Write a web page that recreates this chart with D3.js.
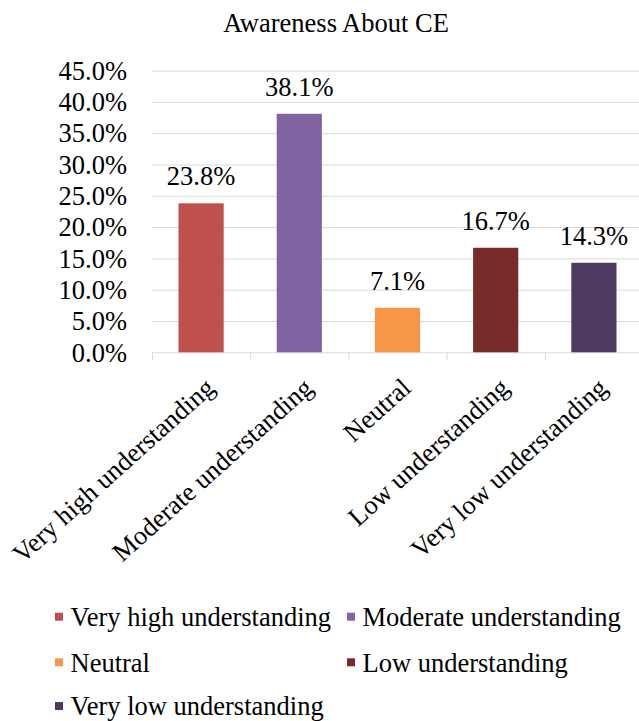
<!DOCTYPE html>
<html>
<head>
<meta charset="utf-8">
<script src="https://cdn.jsdelivr.net/npm/d3@7"></script>
<style>
	body { margin: 0; background: #fff; }
	svg { display: block; }
	svg text { font-family: 'Liberation Serif', 'Times New Roman', serif; fill: #000; }
	.grid line { stroke: #d9d9d9; stroke-width: 1px; }
	.grid path { display: none; }
	.x-axis path, .x-axis line { stroke: #d9d9d9; stroke-width: 1px; }
</style>
</head>
<body>
<div id="chart"></div>
<script>
let categories	= ['Very high understanding', 'Moderate understanding', 'Neutral', 'Low understanding', 'Very low understanding'];
let values		= [0.238, 0.381, 0.071, 0.167, 0.143];
let colors		= ['#C0504D', '#8064A2', '#F79646', '#772C2A', '#4D3B62'];
let yTicks		= [0, 0.05, 0.10, 0.15, 0.20, 0.25, 0.30, 0.35, 0.40, 0.45];
let title		= 'Awareness About CE';

let canvasWidth		= 639;
let canvasHeight	= 721;
let fontSize		= 26.5;

let plot	= { left: 152, right: 643, top: 70.6, bottom: 352.3 };

let svg = d3.select('#chart').append('svg')
	.attr('width', canvasWidth)
	.attr('height', canvasHeight);

let y = d3.scaleLinear()
	.domain([0, 0.45])
	.range([plot.bottom, plot.top]);

let x = d3.scaleBand()
	.domain(categories)
	.range([plot.left, plot.right])
	.paddingInner(0.54)
	.paddingOuter(0.27);

// category edges, for the tick marks between bars
let xEdge = d3.scaleLinear()
	.domain([0, categories.length])
	.range([plot.left, plot.right]);

svg.append('text')
	.attr('x', 336)
	.attr('y', 32)
	.attr('text-anchor', 'middle')
	.style('font-size', fontSize + 'px')
	.text(title);

// gridlines
svg.append('g')
	.attr('class', 'grid')
	.attr('transform', 'translate(' + plot.left + ',0)')
	.call(d3.axisLeft(y).tickValues(yTicks.slice(1)).tickSize(-(plot.right - plot.left)).tickFormat(''));

// y labels
let yAxis = svg.append('g')
	.attr('transform', 'translate(' + plot.left + ',0)')
	.call(d3.axisLeft(y).tickValues(yTicks).tickSize(0).tickPadding(25).tickFormat(d3.format('.1%')));
yAxis.select('.domain').remove();
yAxis.selectAll('text')
	.attr('dy', '0.33em')
	.style('font-size', fontSize + 'px');

// x axis line + ticks at edges
svg.append('g')
	.attr('class', 'x-axis')
	.attr('transform', 'translate(0,' + plot.bottom + ')')
	.call(d3.axisBottom(xEdge).tickValues(d3.range(categories.length + 1)).tickSize(8).tickSizeOuter(0).tickFormat(''));

svg.append('g').selectAll('rect')
	.data(values)
	.enter().append('rect')
		.attr('x', (d, i) => x(categories[i]))
		.attr('y', d => y(d))
		.attr('width', x.bandwidth())
		.attr('height', d => plot.bottom - y(d))
		.attr('fill', (d, i) => colors[i]);

svg.append('g').selectAll('text')
	.data(values)
	.enter().append('text')
		.attr('x', (d, i) => x(categories[i]) + x.bandwidth() / 2)
		.attr('y', d => y(d) - 18)
		.attr('text-anchor', 'middle')
		.style('font-size', fontSize + 'px')
		.text(d => d3.format('.1%')(d));

// rotated category labels
svg.append('g').selectAll('text')
	.data(categories)
	.enter().append('text')
		.attr('transform', d => 'translate(' + (x(d) + x.bandwidth() / 2 + 15) + ',390)rotate(-42)')
		.attr('text-anchor', 'end')
		.style('font-size', fontSize + 'px')
		.text(d => d);

// legend, two columns
let legendCols	= [55, 347];
let legendRows	= [616.7, 662.3, 706];

let legendItem = svg.append('g').selectAll('g')
	.data(categories)
	.enter().append('g')
		.attr('transform', (d, i) => 'translate(' + legendCols[i % 2] + ',' + legendRows[Math.floor(i / 2)] + ')');

legendItem.append('rect')
	.attr('x', 0)
	.attr('y', -4)
	.attr('width', 8)
	.attr('height', 8)
	.attr('fill', (d, i) => colors[i]);

legendItem.append('text')
	.attr('x', 15.5)
	.attr('dy', '0.35em')
	.style('font-size', fontSize + 'px')
	.text(d => d);
</script>
</body>
</html>
